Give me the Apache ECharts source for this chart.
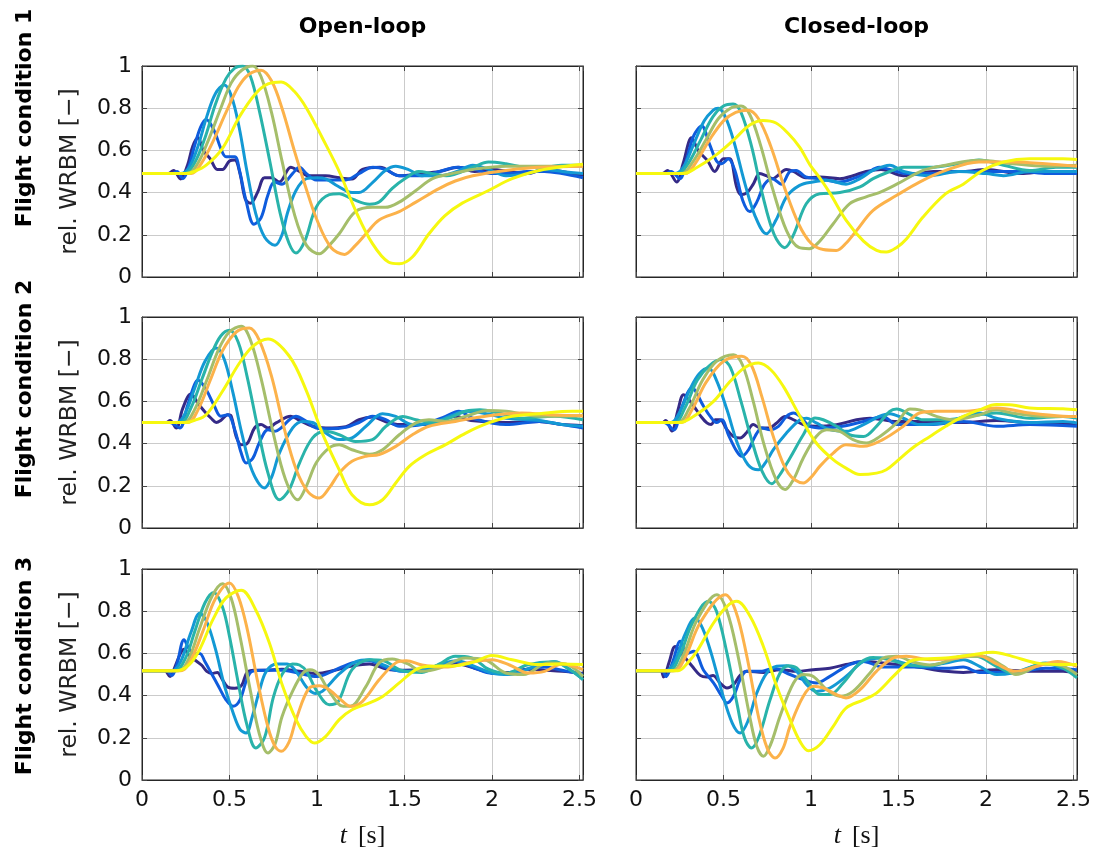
<!DOCTYPE html>
<html>
<head>
<meta charset="utf-8">
<script src="https://cdn.jsdelivr.net/npm/echarts@6/dist/echarts.min.js"></script>
<style>
html,body{margin:0;padding:0;background:#fff;}
#chart{width:1097px;height:854px;}
</style>
</head>
<body>
<div id="chart"></div>
<script>
// ---- tick labels / categories ----
const xTicks = [0, 0.5, 1, 1.5, 2, 2.5];
const yTicks = [0, 0.2, 0.4, 0.6, 0.8, 1];
const colTitles = ['Open-loop', 'Closed-loop'];
const rowTitles = ['Flight condition 1', 'Flight condition 2', 'Flight condition 3'];
const yLabel = 'rel. WRBM [\u2212]';
const colors = ['#352a87', '#0f5cdd', '#1399d4', '#29b3aa', '#a5be6a', '#fcb24a', '#f6f80f'];

// ---- Open-loop, flight condition 1 ----
const ol1_c1 = [[0,0.49],[0.15,0.49],[0.18,0.505],[0.22,0.465],[0.26,0.53],[0.29,0.62],[0.32,0.66],[0.35,0.6],[0.39,0.56],[0.43,0.51],[0.46,0.51],[0.5,0.55],[0.53,0.555],[0.56,0.49],[0.59,0.37],[0.62,0.35],[0.66,0.40],[0.7,0.47],[0.74,0.47],[0.785,0.45],[0.85,0.52],[0.9,0.5],[0.95,0.48],[1.05,0.48],[1.13,0.47],[1.2,0.465],[1.26,0.51],[1.36,0.52],[1.47,0.48],[1.6,0.49],[1.7,0.5],[1.81,0.52],[1.9,0.5],[2.0,0.51],[2.1,0.5],[2.2,0.49],[2.3,0.51],[2.4,0.5],[2.52,0.48]];
const ol1_c2 = [[0,0.49],[0.17,0.49],[0.2,0.5],[0.234,0.466],[0.27,0.53],[0.3,0.62],[0.335,0.71],[0.367,0.746],[0.414,0.69],[0.45,0.61],[0.48,0.57],[0.53,0.57],[0.557,0.505],[0.595,0.36],[0.64,0.25],[0.68,0.28],[0.72,0.39],[0.757,0.45],[0.8,0.44],[0.86,0.49],[0.9,0.52],[0.94,0.49],[0.995,0.46],[1.1,0.46],[1.165,0.46],[1.24,0.49],[1.32,0.52],[1.39,0.51],[1.47,0.48],[1.6,0.48],[1.7,0.5],[1.8,0.52],[1.9,0.51],[2.0,0.49],[2.1,0.49],[2.2,0.5],[2.3,0.5],[2.4,0.49],[2.52,0.47]];
const ol1_c3 = [[0,0.49],[0.22,0.49],[0.27,0.52],[0.32,0.62],[0.37,0.76],[0.42,0.87],[0.47,0.91],[0.51,0.86],[0.555,0.71],[0.6,0.5],[0.65,0.3],[0.7,0.19],[0.76,0.15],[0.8,0.2],[0.83,0.3],[0.88,0.41],[0.94,0.466],[1.0,0.47],[1.05,0.465],[1.12,0.43],[1.2,0.40],[1.24,0.40],[1.32,0.45],[1.39,0.505],[1.45,0.525],[1.52,0.51],[1.6,0.48],[1.7,0.48],[1.8,0.5],[1.89,0.53],[1.98,0.51],[2.08,0.48],[2.2,0.49],[2.3,0.51],[2.4,0.5],[2.52,0.49]];
const ol1_c4 = [[0,0.49],[0.24,0.49],[0.3,0.54],[0.36,0.66],[0.42,0.82],[0.48,0.94],[0.53,0.99],[0.576,1.0],[0.62,0.95],[0.67,0.79],[0.73,0.55],[0.79,0.3],[0.84,0.16],[0.88,0.114],[0.93,0.17],[0.995,0.33],[1.07,0.39],[1.127,0.395],[1.2,0.37],[1.3,0.345],[1.355,0.355],[1.43,0.42],[1.51,0.47],[1.58,0.5],[1.66,0.49],[1.74,0.48],[1.89,0.52],[1.98,0.545],[2.08,0.537],[2.2,0.52],[2.3,0.52],[2.4,0.53],[2.52,0.53]];
const ol1_c5 = [[0,0.49],[0.26,0.49],[0.32,0.54],[0.38,0.65],[0.45,0.8],[0.51,0.92],[0.57,0.98],[0.633,1.0],[0.68,0.95],[0.74,0.78],[0.8,0.55],[0.87,0.3],[0.94,0.15],[1.013,0.11],[1.07,0.15],[1.127,0.205],[1.22,0.31],[1.317,0.33],[1.39,0.33],[1.47,0.355],[1.565,0.41],[1.66,0.466],[1.77,0.49],[1.89,0.51],[2.08,0.525],[2.27,0.525],[2.52,0.525]];
const ol1_c6 = [[0,0.49],[0.28,0.49],[0.34,0.54],[0.41,0.65],[0.48,0.78],[0.55,0.9],[0.61,0.96],[0.68,0.98],[0.74,0.93],[0.8,0.8],[0.87,0.6],[0.93,0.44],[1.0,0.27],[1.08,0.14],[1.157,0.107],[1.22,0.15],[1.28,0.205],[1.355,0.27],[1.47,0.31],[1.565,0.355],[1.7,0.42],[1.79,0.455],[1.89,0.48],[2.08,0.505],[2.27,0.52],[2.52,0.525]];
const ol1_c7 = [[0,0.49],[0.25,0.49],[0.3,0.5],[0.367,0.53],[0.46,0.61],[0.557,0.76],[0.65,0.87],[0.72,0.915],[0.795,0.924],[0.87,0.88],[0.94,0.8],[1.03,0.66],[1.127,0.5],[1.22,0.316],[1.317,0.158],[1.41,0.07],[1.47,0.063],[1.545,0.095],[1.64,0.205],[1.73,0.29],[1.83,0.35],[1.98,0.41],[2.115,0.466],[2.27,0.505],[2.42,0.525],[2.52,0.534]];

// ---- Closed-loop, flight condition 1 ----
const cl1_c1 = [[0,0.49],[0.15,0.49],[0.18,0.505],[0.232,0.45],[0.27,0.54],[0.318,0.66],[0.355,0.6],[0.41,0.55],[0.45,0.5],[0.5,0.56],[0.535,0.56],[0.574,0.43],[0.6,0.39],[0.635,0.4],[0.67,0.44],[0.707,0.49],[0.745,0.48],[0.78,0.466],[0.86,0.51],[0.9,0.5],[0.97,0.47],[1.05,0.474],[1.165,0.466],[1.24,0.48],[1.315,0.5],[1.4,0.51],[1.53,0.48],[1.7,0.5],[1.87,0.5],[2.0,0.51],[2.2,0.49],[2.35,0.5],[2.52,0.49]];
const cl1_c2 = [[0,0.49],[0.17,0.49],[0.2,0.5],[0.25,0.466],[0.29,0.56],[0.33,0.67],[0.375,0.716],[0.42,0.63],[0.46,0.55],[0.49,0.537],[0.527,0.56],[0.565,0.505],[0.61,0.363],[0.65,0.31],[0.69,0.355],[0.735,0.44],[0.78,0.466],[0.83,0.44],[0.88,0.5],[0.915,0.505],[0.97,0.474],[1.05,0.466],[1.165,0.45],[1.24,0.466],[1.315,0.49],[1.39,0.52],[1.45,0.51],[1.55,0.49],[1.7,0.49],[1.85,0.5],[2.0,0.5],[2.2,0.5],[2.35,0.49],[2.52,0.49]];
const cl1_c3 = [[0,0.49],[0.22,0.49],[0.27,0.52],[0.33,0.63],[0.39,0.74],[0.44,0.79],[0.47,0.8],[0.51,0.76],[0.56,0.64],[0.62,0.45],[0.68,0.29],[0.745,0.205],[0.8,0.27],[0.86,0.38],[0.935,0.434],[1.01,0.45],[1.09,0.458],[1.2,0.44],[1.28,0.466],[1.355,0.505],[1.45,0.53],[1.53,0.5],[1.68,0.48],[1.84,0.5],[2.0,0.49],[2.1,0.48],[2.25,0.5],[2.4,0.5],[2.52,0.5]];
const cl1_c4 = [[0,0.49],[0.24,0.49],[0.3,0.54],[0.37,0.65],[0.44,0.76],[0.5,0.81],[0.555,0.82],[0.6,0.78],[0.66,0.62],[0.72,0.4],[0.79,0.2],[0.85,0.139],[0.9,0.2],[0.973,0.347],[1.05,0.395],[1.165,0.4],[1.28,0.427],[1.355,0.466],[1.45,0.5],[1.53,0.52],[1.68,0.52],[1.84,0.537],[1.96,0.555],[2.1,0.53],[2.25,0.505],[2.4,0.52],[2.52,0.52]];
const cl1_c5 = [[0,0.49],[0.26,0.49],[0.32,0.54],[0.4,0.65],[0.47,0.75],[0.54,0.8],[0.6,0.81],[0.65,0.77],[0.71,0.63],[0.78,0.42],[0.86,0.22],[0.93,0.14],[0.99,0.134],[1.05,0.17],[1.125,0.25],[1.22,0.347],[1.315,0.38],[1.39,0.4],[1.49,0.44],[1.64,0.505],[1.77,0.53],[1.96,0.553],[2.15,0.537],[2.34,0.525],[2.52,0.53]];
const cl1_c6 = [[0,0.49],[0.28,0.49],[0.34,0.54],[0.42,0.65],[0.5,0.74],[0.57,0.78],[0.64,0.79],[0.7,0.75],[0.77,0.62],[0.85,0.42],[0.93,0.25],[1.0,0.16],[1.07,0.13],[1.145,0.126],[1.2,0.16],[1.26,0.22],[1.355,0.316],[1.49,0.387],[1.62,0.45],[1.77,0.505],[1.96,0.545],[2.15,0.545],[2.34,0.537],[2.52,0.525]];
const cl1_c7 = [[0,0.49],[0.27,0.49],[0.35,0.52],[0.46,0.58],[0.555,0.647],[0.65,0.72],[0.725,0.742],[0.8,0.73],[0.87,0.68],[0.935,0.616],[0.995,0.53],[1.05,0.47],[1.11,0.395],[1.2,0.27],[1.3,0.17],[1.375,0.126],[1.43,0.118],[1.49,0.14],[1.545,0.18],[1.64,0.284],[1.77,0.395],[1.87,0.44],[1.98,0.505],[2.1,0.545],[2.25,0.56],[2.44,0.56],[2.52,0.557]];

// ---- Open-loop, flight condition 2 ----
const ol2_c1 = [[0,0.5],[0.14,0.5],[0.16,0.51],[0.196,0.474],[0.23,0.56],[0.26,0.62],[0.28,0.635],[0.32,0.59],[0.36,0.55],[0.395,0.52],[0.424,0.5],[0.45,0.51],[0.49,0.537],[0.51,0.53],[0.538,0.434],[0.567,0.395],[0.6,0.4],[0.643,0.474],[0.68,0.49],[0.72,0.474],[0.766,0.498],[0.85,0.53],[0.9,0.51],[0.975,0.482],[1.05,0.474],[1.165,0.48],[1.24,0.513],[1.317,0.526],[1.39,0.505],[1.47,0.49],[1.6,0.49],[1.7,0.505],[1.79,0.53],[1.88,0.51],[2.08,0.5],[2.27,0.505],[2.4,0.49],[2.52,0.485]];
const ol2_c2 = [[0,0.5],[0.16,0.5],[0.215,0.474],[0.26,0.58],[0.3,0.68],[0.32,0.7],[0.367,0.655],[0.414,0.577],[0.45,0.53],[0.49,0.537],[0.53,0.466],[0.567,0.355],[0.595,0.308],[0.633,0.33],[0.67,0.403],[0.72,0.466],[0.757,0.458],[0.795,0.474],[0.842,0.513],[0.88,0.53],[0.93,0.51],[0.995,0.474],[1.07,0.47],[1.165,0.477],[1.24,0.5],[1.317,0.53],[1.39,0.515],[1.47,0.482],[1.6,0.49],[1.735,0.529],[1.81,0.553],[1.89,0.52],[2.08,0.49],[2.27,0.505],[2.4,0.49],[2.52,0.474]];
const ol2_c3 = [[0,0.5],[0.2,0.5],[0.25,0.55],[0.3,0.66],[0.36,0.79],[0.424,0.853],[0.47,0.8],[0.52,0.64],[0.57,0.45],[0.63,0.27],[0.7,0.19],[0.74,0.24],[0.785,0.355],[0.861,0.474],[0.918,0.505],[0.975,0.5],[1.05,0.45],[1.127,0.419],[1.2,0.427],[1.28,0.482],[1.374,0.542],[1.45,0.529],[1.545,0.49],[1.66,0.498],[1.76,0.53],[1.85,0.553],[1.98,0.54],[2.08,0.52],[2.27,0.51],[2.4,0.49],[2.52,0.482]];
const ol2_c4 = [[0,0.5],[0.22,0.5],[0.28,0.57],[0.34,0.7],[0.4,0.83],[0.45,0.91],[0.5,0.937],[0.55,0.88],[0.6,0.72],[0.66,0.48],[0.72,0.26],[0.785,0.134],[0.84,0.18],[0.9,0.308],[0.975,0.427],[1.05,0.458],[1.127,0.442],[1.22,0.41],[1.317,0.419],[1.394,0.482],[1.49,0.529],[1.565,0.513],[1.66,0.5],[1.75,0.52],[1.85,0.553],[1.93,0.56],[2.04,0.545],[2.17,0.52],[2.36,0.53],[2.52,0.513]];
const ol2_c5 = [[0,0.5],[0.24,0.5],[0.3,0.56],[0.37,0.7],[0.44,0.85],[0.5,0.93],[0.567,0.956],[0.62,0.89],[0.68,0.71],[0.75,0.45],[0.82,0.23],[0.89,0.134],[0.94,0.2],[0.995,0.308],[1.07,0.38],[1.127,0.395],[1.2,0.371],[1.3,0.35],[1.375,0.371],[1.47,0.442],[1.565,0.498],[1.64,0.513],[1.73,0.505],[1.85,0.53],[1.98,0.557],[2.08,0.553],[2.27,0.53],[2.52,0.532]];
const ol2_c6 = [[0,0.5],[0.26,0.5],[0.32,0.56],[0.39,0.7],[0.46,0.84],[0.54,0.93],[0.614,0.948],[0.67,0.89],[0.74,0.72],[0.81,0.48],[0.88,0.28],[0.95,0.17],[1.013,0.142],[1.07,0.19],[1.127,0.26],[1.2,0.316],[1.28,0.34],[1.355,0.348],[1.45,0.387],[1.545,0.442],[1.64,0.482],[1.79,0.505],[1.98,0.532],[2.17,0.545],[2.36,0.535],[2.52,0.532]];
const ol2_c7 = [[0,0.5],[0.25,0.5],[0.3,0.51],[0.367,0.537],[0.46,0.648],[0.557,0.782],[0.633,0.861],[0.72,0.896],[0.842,0.814],[0.937,0.655],[1.03,0.45],[1.127,0.276],[1.2,0.158],[1.3,0.11],[1.375,0.134],[1.45,0.213],[1.527,0.292],[1.62,0.347],[1.735,0.395],[1.85,0.45],[1.98,0.498],[2.115,0.53],[2.27,0.542],[2.46,0.553],[2.52,0.553]];

// ---- Closed-loop, flight condition 2 ----
const cl2_c1 = [[0,0.5],[0.15,0.5],[0.17,0.51],[0.205,0.46],[0.24,0.56],[0.272,0.632],[0.33,0.577],[0.37,0.53],[0.405,0.498],[0.43,0.49],[0.452,0.513],[0.48,0.513],[0.52,0.466],[0.557,0.434],[0.595,0.427],[0.63,0.45],[0.67,0.49],[0.71,0.474],[0.76,0.474],[0.804,0.498],[0.852,0.529],[0.9,0.513],[0.956,0.49],[1.03,0.482],[1.146,0.49],[1.26,0.513],[1.337,0.52],[1.49,0.505],[1.68,0.505],[1.87,0.5],[2.06,0.51],[2.25,0.498],[2.44,0.49],[2.52,0.49]];
const cl2_c2 = [[0,0.5],[0.16,0.5],[0.215,0.465],[0.26,0.57],[0.32,0.663],[0.386,0.577],[0.424,0.529],[0.46,0.5],[0.49,0.513],[0.528,0.442],[0.576,0.363],[0.605,0.34],[0.643,0.371],[0.68,0.434],[0.72,0.474],[0.766,0.466],[0.814,0.482],[0.86,0.529],[0.9,0.545],[0.937,0.529],[0.994,0.482],[1.07,0.474],[1.18,0.482],[1.3,0.505],[1.41,0.529],[1.49,0.49],[1.68,0.49],[1.87,0.505],[2.06,0.482],[2.25,0.49],[2.52,0.482]];
const cl2_c3 = [[0,0.5],[0.2,0.5],[0.25,0.55],[0.31,0.66],[0.36,0.73],[0.414,0.758],[0.46,0.7],[0.52,0.56],[0.58,0.4],[0.64,0.3],[0.7,0.276],[0.74,0.31],[0.785,0.371],[0.86,0.45],[0.937,0.513],[0.975,0.52],[1.03,0.498],[1.108,0.466],[1.2,0.458],[1.3,0.49],[1.39,0.529],[1.45,0.542],[1.527,0.52],[1.62,0.49],[1.77,0.5],[1.963,0.545],[2.06,0.52],[2.25,0.5],[2.44,0.505],[2.52,0.498]];
const cl2_c4 = [[0,0.5],[0.22,0.5],[0.28,0.57],[0.35,0.7],[0.42,0.77],[0.49,0.798],[0.54,0.76],[0.6,0.6],[0.66,0.42],[0.72,0.27],[0.776,0.21],[0.82,0.25],[0.88,0.332],[0.956,0.442],[1.023,0.521],[1.07,0.513],[1.146,0.482],[1.22,0.442],[1.3,0.434],[1.374,0.482],[1.45,0.553],[1.49,0.564],[1.56,0.54],[1.64,0.513],[1.77,0.513],[1.963,0.537],[2.06,0.545],[2.25,0.52],[2.44,0.529],[2.52,0.521]];
const cl2_c5 = [[0,0.5],[0.24,0.5],[0.3,0.56],[0.38,0.7],[0.46,0.79],[0.557,0.821],[0.61,0.77],[0.67,0.6],[0.73,0.4],[0.8,0.23],[0.852,0.182],[0.9,0.23],[0.956,0.332],[1.03,0.434],[1.09,0.466],[1.165,0.458],[1.24,0.419],[1.317,0.403],[1.394,0.434],[1.49,0.498],[1.565,0.564],[1.62,0.56],[1.717,0.529],[1.81,0.513],[1.963,0.537],[2.06,0.56],[2.15,0.545],[2.34,0.529],[2.52,0.529]];
const cl2_c6 = [[0,0.5],[0.26,0.5],[0.32,0.56],[0.4,0.69],[0.5,0.79],[0.605,0.814],[0.66,0.77],[0.72,0.62],[0.79,0.42],[0.87,0.26],[0.956,0.213],[1.0,0.24],[1.05,0.292],[1.127,0.355],[1.2,0.395],[1.3,0.387],[1.41,0.419],[1.527,0.482],[1.62,0.545],[1.717,0.553],[1.87,0.553],[2.06,0.569],[2.25,0.545],[2.44,0.53],[2.52,0.529]];
const cl2_c7 = [[0,0.5],[0.25,0.5],[0.33,0.53],[0.443,0.6],[0.538,0.695],[0.62,0.76],[0.7,0.782],[0.77,0.75],[0.842,0.671],[0.937,0.53],[1.03,0.403],[1.127,0.324],[1.2,0.284],[1.28,0.253],[1.374,0.26],[1.43,0.276],[1.49,0.316],[1.58,0.379],[1.68,0.434],[1.77,0.482],[1.87,0.529],[1.963,0.56],[2.06,0.585],[2.15,0.583],[2.25,0.569],[2.44,0.565],[2.52,0.56]];

// ---- Open-loop, flight condition 3 ----
const ol3_c1 = [[0,0.518],[0.13,0.518],[0.16,0.49],[0.19,0.54],[0.22,0.6],[0.24,0.62],[0.27,0.59],[0.3,0.57],[0.34,0.545],[0.37,0.515],[0.4,0.505],[0.43,0.51],[0.46,0.475],[0.49,0.44],[0.53,0.435],[0.57,0.45],[0.6,0.51],[0.64,0.52],[0.7,0.52],[0.8,0.525],[0.9,0.515],[1.0,0.505],[1.1,0.52],[1.2,0.54],[1.3,0.55],[1.4,0.525],[1.5,0.52],[1.6,0.525],[1.7,0.54],[1.8,0.55],[1.9,0.53],[2.0,0.51],[2.1,0.51],[2.2,0.525],[2.3,0.52],[2.4,0.515],[2.52,0.505]];
const ol3_c2 = [[0,0.518],[0.14,0.518],[0.17,0.495],[0.2,0.55],[0.24,0.665],[0.27,0.62],[0.3,0.6],[0.33,0.6],[0.36,0.56],[0.4,0.5],[0.44,0.44],[0.48,0.38],[0.52,0.35],[0.56,0.38],[0.6,0.48],[0.63,0.515],[0.7,0.52],[0.8,0.52],[0.9,0.505],[1.0,0.49],[1.1,0.52],[1.2,0.555],[1.3,0.565],[1.4,0.53],[1.5,0.515],[1.6,0.52],[1.7,0.545],[1.8,0.56],[1.9,0.53],[2.0,0.505],[2.1,0.505],[2.2,0.525],[2.3,0.535],[2.4,0.52],[2.52,0.5]];
const ol3_c3 = [[0,0.518],[0.17,0.518],[0.22,0.56],[0.28,0.7],[0.33,0.79],[0.37,0.75],[0.42,0.62],[0.47,0.45],[0.52,0.32],[0.56,0.24],[0.595,0.223],[0.63,0.3],[0.67,0.42],[0.71,0.515],[0.77,0.55],[0.83,0.55],[0.88,0.515],[0.94,0.44],[0.99,0.41],[1.03,0.42],[1.13,0.505],[1.22,0.56],[1.3,0.57],[1.38,0.545],[1.49,0.515],[1.6,0.52],[1.73,0.555],[1.8,0.565],[1.88,0.545],[2.0,0.507],[2.1,0.5],[2.25,0.54],[2.36,0.56],[2.45,0.52],[2.52,0.476]];
const ol3_c4 = [[0,0.518],[0.19,0.518],[0.25,0.58],[0.3,0.7],[0.36,0.84],[0.41,0.889],[0.46,0.82],[0.5,0.68],[0.55,0.46],[0.6,0.26],[0.65,0.152],[0.7,0.2],[0.75,0.39],[0.8,0.5],[0.86,0.55],[0.9,0.545],[0.94,0.515],[1.0,0.42],[1.07,0.357],[1.12,0.37],[1.2,0.523],[1.3,0.57],[1.38,0.565],[1.48,0.52],[1.6,0.51],[1.7,0.55],[1.79,0.586],[1.88,0.58],[1.98,0.525],[2.08,0.505],[2.2,0.545],[2.35,0.56],[2.45,0.52],[2.52,0.476]];
const ol3_c5 = [[0,0.518],[0.21,0.518],[0.27,0.58],[0.33,0.72],[0.4,0.87],[0.46,0.93],[0.51,0.86],[0.56,0.68],[0.62,0.42],[0.67,0.22],[0.72,0.128],[0.76,0.17],[0.8,0.3],[0.86,0.42],[0.92,0.507],[0.96,0.523],[1.01,0.5],[1.07,0.42],[1.15,0.349],[1.19,0.349],[1.28,0.444],[1.355,0.555],[1.43,0.574],[1.52,0.55],[1.6,0.515],[1.7,0.53],[1.85,0.578],[1.96,0.57],[2.08,0.507],[2.18,0.5],[2.32,0.555],[2.42,0.55],[2.52,0.491]];
const ol3_c6 = [[0,0.518],[0.22,0.518],[0.28,0.57],[0.35,0.71],[0.42,0.86],[0.5,0.934],[0.55,0.87],[0.6,0.72],[0.66,0.47],[0.72,0.25],[0.76,0.16],[0.795,0.136],[0.84,0.18],[0.88,0.286],[0.956,0.436],[1.013,0.447],[1.07,0.428],[1.146,0.373],[1.194,0.349],[1.26,0.373],[1.355,0.475],[1.45,0.555],[1.51,0.565],[1.6,0.545],[1.73,0.535],[1.89,0.56],[2.0,0.57],[2.1,0.545],[2.21,0.507],[2.3,0.515],[2.4,0.55],[2.52,0.523]];
const ol3_c7 = [[0,0.518],[0.2,0.518],[0.27,0.547],[0.33,0.62],[0.405,0.76],[0.48,0.863],[0.567,0.899],[0.65,0.806],[0.728,0.649],[0.804,0.444],[0.88,0.286],[0.937,0.207],[0.985,0.175],[1.05,0.207],[1.127,0.286],[1.2,0.333],[1.3,0.365],[1.375,0.396],[1.47,0.46],[1.565,0.523],[1.64,0.539],[1.79,0.542],[1.9,0.56],[2.0,0.59],[2.115,0.57],[2.27,0.547],[2.4,0.55],[2.52,0.547]];

// ---- Closed-loop, flight condition 3 ----
const cl3_c1 = [[0,0.518],[0.14,0.518],[0.158,0.488],[0.19,0.56],[0.224,0.633],[0.27,0.59],[0.32,0.54],[0.367,0.496],[0.405,0.488],[0.44,0.495],[0.48,0.46],[0.52,0.436],[0.557,0.452],[0.595,0.496],[0.633,0.515],[0.728,0.51],[0.823,0.523],[0.918,0.515],[1.013,0.523],[1.108,0.53],[1.2,0.547],[1.3,0.562],[1.41,0.555],[1.584,0.539],[1.77,0.515],[1.87,0.51],[2.06,0.523],[2.25,0.515],[2.44,0.515],[2.52,0.507]];
const cl3_c2 = [[0,0.518],[0.15,0.518],[0.17,0.49],[0.21,0.56],[0.253,0.657],[0.29,0.6],[0.33,0.61],[0.386,0.52],[0.443,0.46],[0.49,0.397],[0.52,0.365],[0.557,0.397],[0.595,0.476],[0.633,0.515],[0.72,0.515],[0.785,0.53],[0.88,0.5],[0.956,0.476],[1.03,0.46],[1.108,0.491],[1.22,0.547],[1.3,0.562],[1.41,0.535],[1.584,0.535],[1.77,0.53],[1.87,0.535],[1.963,0.51],[2.15,0.51],[2.34,0.53],[2.52,0.523]];
const cl3_c3 = [[0,0.518],[0.17,0.518],[0.22,0.56],[0.28,0.69],[0.338,0.768],[0.38,0.72],[0.43,0.6],[0.49,0.42],[0.55,0.27],[0.595,0.223],[0.64,0.28],[0.69,0.412],[0.747,0.507],[0.804,0.539],[0.861,0.542],[0.918,0.515],[0.975,0.452],[1.03,0.42],[1.108,0.436],[1.2,0.491],[1.3,0.562],[1.41,0.578],[1.527,0.555],[1.64,0.54],[1.77,0.555],[1.87,0.57],[1.963,0.539],[2.06,0.5],[2.15,0.507],[2.34,0.55],[2.44,0.53],[2.52,0.5]];
const cl3_c4 = [[0,0.518],[0.19,0.518],[0.25,0.59],[0.32,0.74],[0.414,0.847],[0.46,0.8],[0.52,0.6],[0.58,0.35],[0.62,0.2],[0.66,0.152],[0.7,0.2],[0.766,0.38],[0.823,0.507],[0.87,0.542],[0.918,0.531],[0.994,0.452],[1.05,0.405],[1.108,0.405],[1.184,0.46],[1.28,0.555],[1.355,0.581],[1.45,0.57],[1.55,0.545],[1.68,0.54],[1.87,0.586],[1.94,0.586],[2.06,0.539],[2.15,0.507],[2.34,0.555],[2.44,0.53],[2.52,0.484]];
const cl3_c5 = [[0,0.518],[0.21,0.518],[0.27,0.59],[0.35,0.76],[0.462,0.878],[0.52,0.8],[0.58,0.6],[0.65,0.3],[0.69,0.16],[0.728,0.112],[0.77,0.17],[0.823,0.302],[0.9,0.46],[0.956,0.5],[1.013,0.491],[1.09,0.428],[1.165,0.397],[1.24,0.42],[1.337,0.507],[1.413,0.578],[1.49,0.586],[1.58,0.56],[1.68,0.545],[1.85,0.58],[1.98,0.586],[2.1,0.539],[2.17,0.5],[2.34,0.55],[2.44,0.54],[2.52,0.5]];
const cl3_c6 = [[0,0.518],[0.22,0.518],[0.28,0.58],[0.37,0.75],[0.51,0.878],[0.57,0.8],[0.63,0.6],[0.7,0.3],[0.75,0.15],[0.795,0.104],[0.84,0.15],[0.88,0.254],[0.956,0.397],[1.013,0.444],[1.07,0.436],[1.146,0.405],[1.2,0.389],[1.28,0.428],[1.374,0.515],[1.47,0.578],[1.545,0.586],[1.68,0.57],[1.84,0.578],[1.945,0.594],[2.06,0.55],[2.17,0.515],[2.29,0.539],[2.41,0.562],[2.52,0.539]];
const cl3_c7 = [[0,0.518],[0.24,0.518],[0.3,0.56],[0.348,0.61],[0.443,0.744],[0.52,0.823],[0.576,0.847],[0.652,0.776],[0.728,0.633],[0.804,0.444],[0.88,0.286],[0.937,0.183],[0.985,0.139],[1.05,0.167],[1.127,0.254],[1.2,0.341],[1.3,0.38],[1.374,0.412],[1.47,0.491],[1.565,0.562],[1.64,0.573],[1.77,0.578],[1.925,0.594],[2.04,0.605],[2.15,0.586],[2.286,0.555],[2.42,0.547],[2.52,0.547]];

const panels = [
  [ol1_c1, ol1_c2, ol1_c3, ol1_c4, ol1_c5, ol1_c6, ol1_c7],
  [cl1_c1, cl1_c2, cl1_c3, cl1_c4, cl1_c5, cl1_c6, cl1_c7],
  [ol2_c1, ol2_c2, ol2_c3, ol2_c4, ol2_c5, ol2_c6, ol2_c7],
  [cl2_c1, cl2_c2, cl2_c3, cl2_c4, cl2_c5, cl2_c6, cl2_c7],
  [ol3_c1, ol3_c2, ol3_c3, ol3_c4, ol3_c5, ol3_c6, ol3_c7],
  [cl3_c1, cl3_c2, cl3_c3, cl3_c4, cl3_c5, cl3_c6, cl3_c7]
];

// ---- layout ----
const colLeft = [142, 636];
const rowTop = [66, 317, 569];
const plotW = 441, plotH = 211;
const xMax = 2.52;

const chart = echarts.init(document.getElementById('chart'), null, {renderer: 'canvas'});

const grids = [], xAxes = [], yAxes = [], series = [];
const tickFont = 'DejaVu Sans';
const gridColor = '#cbcbcb';
const isTick = (v, arr) => arr.some(t => Math.abs(t - v) < 1e-6);

for (let i = 0; i < 6; i++) {
  const r = Math.floor(i / 2), c = i % 2;
  grids.push({left: colLeft[c], top: rowTop[r], width: plotW, height: plotH,
              show: true, borderColor: '#262626', borderWidth: 1, backgroundColor: '#fff'});
  const xCommon = {gridIndex: i, type: 'value', min: 0, max: xMax, interval: 0.5};
  xAxes.push(Object.assign({}, xCommon, {
    position: 'bottom',
    axisLine: {show: true, onZero: false, lineStyle: {color: '#262626', width: 1}},
    axisTick: {show: true, inside: true, length: 5, lineStyle: {color: '#444'}},
    axisLabel: {show: r === 2, margin: 9, color: '#111', fontSize: 22, fontFamily: tickFont,
                formatter: v => isTick(v, xTicks) ? String(+v.toFixed(1)) : ''},
    splitLine: {show: true, lineStyle: {color: gridColor, width: 1}}
  }));
  xAxes.push(Object.assign({}, xCommon, {
    position: 'top',
    axisLine: {show: true, onZero: false, lineStyle: {color: '#262626', width: 1}},
    axisTick: {show: true, inside: true, length: 5, lineStyle: {color: '#444'}},
    axisLabel: {show: false}, splitLine: {show: false}
  }));
  const yCommon = {gridIndex: i, type: 'value', min: 0, max: 1, interval: 0.2};
  yAxes.push(Object.assign({}, yCommon, {
    position: 'left',
    axisLine: {show: true, onZero: false, lineStyle: {color: '#262626', width: 1}},
    axisTick: {show: true, inside: true, length: 5, lineStyle: {color: '#444'}},
    axisLabel: {show: c === 0, margin: 10, color: '#111', fontSize: 22, fontFamily: tickFont,
                formatter: v => isTick(v, yTicks) ? String(+v.toFixed(1)) : ''},
    splitLine: {show: true, lineStyle: {color: gridColor, width: 1}}
  }));
  yAxes.push(Object.assign({}, yCommon, {
    position: 'right',
    axisLine: {show: true, onZero: false, lineStyle: {color: '#262626', width: 1}},
    axisTick: {show: true, inside: true, length: 5, lineStyle: {color: '#444'}},
    axisLabel: {show: false}, splitLine: {show: false}
  }));
  panels[i].forEach((data, k) => {
    series.push({
      type: 'line', xAxisIndex: 2 * i, yAxisIndex: 2 * i, data: data,
      showSymbol: false, smooth: 0.35, clip: true, silent: true, z: 3 + k,
      lineStyle: {color: colors[k], width: 3}, itemStyle: {color: colors[k]}
    });
  });
}

const graphics = [];
colTitles.forEach((t, c) => {
  graphics.push({type: 'text', x: colLeft[c] + plotW / 2, y: 27,
    style: {text: t, font: 'bold 22px "DejaVu Sans"', fill: '#000',
            align: 'center', verticalAlign: 'middle', textAlign: 'center', textVerticalAlign: 'middle'}});
  graphics.push({type: 'text', x: colLeft[c] + plotW / 2, y: 836,
    style: {text: '{i|t}{n|[s]}', fill: '#111',
            align: 'center', verticalAlign: 'middle', textAlign: 'center', textVerticalAlign: 'middle',
            rich: {i: {fontFamily: 'Liberation Serif', fontStyle: 'italic', fontSize: 26, fill: '#111'},
                   n: {fontFamily: 'Liberation Serif', fontSize: 26, fill: '#111', padding: [0, 0, 0, 11]}}}});
});
const rowLabelY = [118, 389, 666];
rowTitles.forEach((t, r) => {
  graphics.push({type: 'text', x: 25, y: rowLabelY[r], rotation: Math.PI / 2,
    style: {text: t, font: 'bold 22px "DejaVu Sans"', fill: '#000',
            align: 'center', verticalAlign: 'middle', textAlign: 'center', textVerticalAlign: 'middle'}});
  graphics.push({type: 'text', x: 70, y: rowTop[r] + plotH / 2, rotation: Math.PI / 2,
    style: {text: yLabel, font: '23.5px "DejaVu Sans"', fill: '#222',
            align: 'center', verticalAlign: 'middle', textAlign: 'center', textVerticalAlign: 'middle'}});
});

chart.setOption({
  animation: false,
  backgroundColor: '#ffffff',
  grid: grids, xAxis: xAxes, yAxis: yAxes, series: series,
  graphic: graphics
});
</script>
</body>
</html>
